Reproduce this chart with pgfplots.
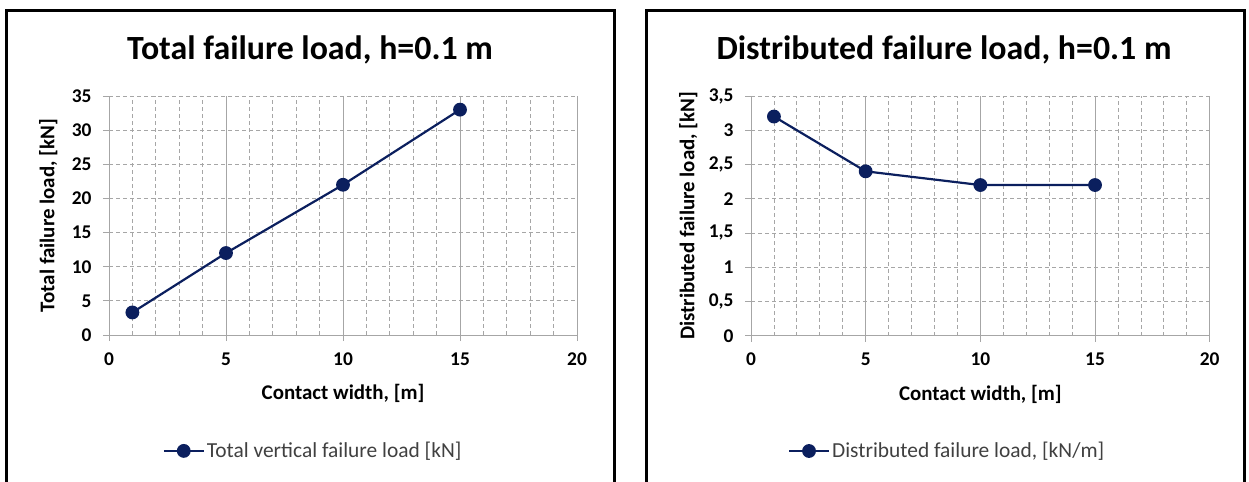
\documentclass[border=0pt]{standalone}
\usepackage{pgfplots}
\pgfplotsset{compat=1.18}
\usepackage{fontspec}
\setmainfont{Carlito}
\definecolor{navy}{HTML}{0B1F5E}
\definecolor{gridc}{HTML}{A6A6A6}
\definecolor{legtext}{HTML}{404040}
\pgfplotsset{
  panel/.style={
    scale only axis,
    anchor=south west,
    xmin=0, xmax=20, ymin=0,
    xtick={0,5,...,20},
    minor x tick num=4,
    axis x line=bottom, axis y line=left,
    axis line style={-, draw=gridc, line width=0.9bp},
    xmajorgrids, xminorgrids, ymajorgrids,
    major x grid style={solid, draw=gridc, line width=0.9bp},
    minor x grid style={draw=gridc, line width=0.8bp, dash pattern=on 4bp off 3bp},
    major y grid style={draw=gridc, line width=0.8bp, dash pattern=on 4bp off 3bp},
    tick align=outside,
    major tick length=6bp, minor tick length=0bp,
    tick style={draw=gridc, line width=0.9bp, solid},
    /pgf/number format/assume math mode=true,
    tick label style={font=\fontsize{19.5}{23}\selectfont\bfseries},
    yticklabel style={xshift=-8bp},
    xticklabel style={yshift=-8bp},
    label style={font=\fontsize{21}{25}\selectfont\bfseries},
    legend style={draw=none, fill=none, font=\fontsize{21.5}{25}\selectfont, text=legtext, anchor=center},
    legend image code/.code={
      \draw[#1, mark repeat=2, mark phase=2] plot coordinates {(0bp,0bp) (20bp,0bp) (40bp,0bp)};
    },
  },
  ser/.style={navy, line width=2.2bp, mark=*, mark size=5.8bp, mark options={solid, fill=navy, draw=navy}},
}
\begin{document}
\begin{tikzpicture}
\useasboundingbox (0bp,0bp) rectangle (1249bp,482bp);
\draw[line width=3bp] (6.7bp,-20bp) rectangle (614bp,471bp);
\draw[line width=3bp] (646bp,-20bp) rectangle (1244bp,471bp);
\node[font=\fontsize{34}{40}\selectfont\bfseries] at (310bp,432bp) {Total failure load, h=0.1 m};
\node[font=\fontsize{34}{40}\selectfont\bfseries] at (944bp,432bp) {Distributed failure load, h=0.1 m};
\begin{axis}[panel,
  at={(109bp,147bp)}, width=468bp, height=239bp,
  ymax=35, ytick={0,5,...,35},
  xlabel={Contact width, [m]},
  ylabel={Total failure load, [kN]},
  xlabel style={at={(axis description cs:0.5,-0.243)}, anchor=center},
  ylabel style={at={(axis description cs:-0.130,0.5)}, anchor=center},
  legend style={at={(0.436,-0.485)}},
]
\addplot[ser] coordinates {(1,3.3) (5,12) (10,22) (15,33)};
\addlegendentry{Total vertical failure load [kN]}
\end{axis}
\begin{axis}[panel,
  at={(751bp,146.3bp)}, width=458.7bp, height=239.7bp,
  ymax=3.5, ytick={0,0.5,...,3.5},
  /pgf/number format/use comma,
  xlabel={Contact width, [m]},
  ylabel={Distributed failure load, [kN]},
  xlabel style={at={(axis description cs:0.5,-0.243)}, anchor=center},
  ylabel style={at={(axis description cs:-0.137,0.5)}, anchor=center},
  legend style={at={(0.4275,-0.481)}},
]
\addplot[ser] coordinates {(1,3.2) (5,2.4) (10,2.2) (15,2.2)};
\addlegendentry{Distributed failure load, [kN/m]}
\end{axis}
\end{tikzpicture}
\end{document}
